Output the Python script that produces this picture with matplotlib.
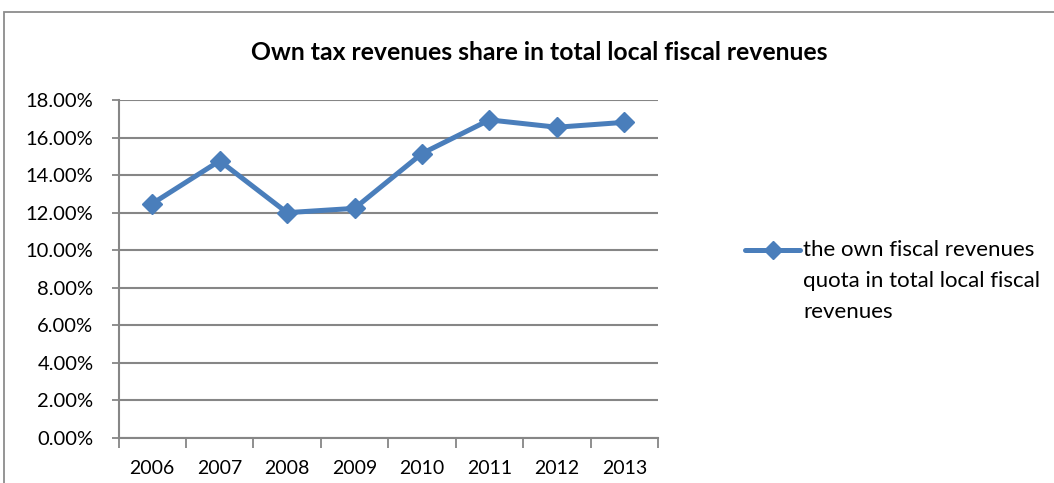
import matplotlib
matplotlib.use("Agg")
import matplotlib.pyplot as plt
from matplotlib.lines import Line2D
from matplotlib.patches import Rectangle
from matplotlib.ticker import FixedLocator, PercentFormatter

years = ["2006", "2007", "2008", "2009", "2010", "2011", "2012", "2013"]
own_quota = [12.48, 14.76, 12.00, 12.23, 15.15, 16.94, 16.55, 16.81]
y_ticks = [0, 2, 4, 6, 8, 10, 12, 14, 16, 18]

title = "Own tax revenues share in total local fiscal revenues"
series_label = "the own fiscal revenues\nquota in total local fiscal\nrevenues"

FONT = ["Lato", "DejaVu Sans"]
LINE = "#4a7ebb"
GRID = "#868686"

fig = plt.figure(figsize=(10.54, 4.83), dpi=100)
fig.patch.set_facecolor("white")

# chart frame (partially clipped at the right and bottom)
fig.add_artist(Rectangle((4 / 1054, -0.1), 1.2, 1 - 12 / 483 + 0.1,
                         transform=fig.transFigure, fill=False,
                         edgecolor="#8c8c8c", linewidth=1.3))

ax = fig.add_axes([118.5 / 1054, 1 - 438 / 483, (658 - 118.5) / 1054, (438 - 100) / 483])
x = list(range(len(years)))
line, = ax.plot(x, own_quota, color=LINE, linewidth=3.6, marker="D",
                markersize=10.5, markeredgecolor=LINE, markerfacecolor=LINE,
                zorder=3)

ax.set_xlim(-0.5, len(years) - 0.5)
ax.set_ylim(0, 18)
ax.set_yticks(y_ticks)
ax.yaxis.set_major_formatter(PercentFormatter(decimals=2))
ax.yaxis.grid(True, color=GRID, linewidth=1.5)
ax.set_axisbelow(True)

ax.xaxis.set_major_locator(FixedLocator([i - 0.5 for i in range(len(years) + 1)]))
ax.xaxis.set_minor_locator(FixedLocator(x))
ax.set_xticklabels([], minor=False)
ax.set_xticklabels(years, minor=True)
ax.tick_params(axis="x", which="major", direction="out", length=7, width=1.3, color=GRID)
ax.tick_params(axis="x", which="minor", length=0, pad=16, labelsize=14)
ax.tick_params(axis="y", direction="out", length=5, width=1.3, color=GRID, pad=13,
               labelsize=14.5)
for lbl in ax.get_xticklabels(minor=True) + ax.get_yticklabels():
    lbl.set_family(FONT)

for side in ("top", "right"):
    ax.spines[side].set_visible(False)
for side in ("left", "bottom"):
    ax.spines[side].set_color(GRID)
    ax.spines[side].set_linewidth(1.5)

fig.text(539 / 1054, 1 - 52 / 483, title, ha="center", va="center",
         fontsize=17.8, fontweight="bold", family=FONT)

# legend: sample line with marker beside the first text line
ly = 1 - 250 / 483
fig.add_artist(Line2D([745 / 1054, 800 / 1054], [ly, ly], transform=fig.transFigure,
                      color=LINE, linewidth=3.6, solid_capstyle="round"))
fig.add_artist(Line2D([772.5 / 1054], [ly], transform=fig.transFigure,
                      color=LINE, marker="D", markersize=9, linestyle="none"))
fig.text(803 / 1054, 1 - 240 / 483, series_label, ha="left", va="top",
         fontsize=16, family=FONT, linespacing=1.7)

fig.savefig("out.png", dpi=100, facecolor="white")
